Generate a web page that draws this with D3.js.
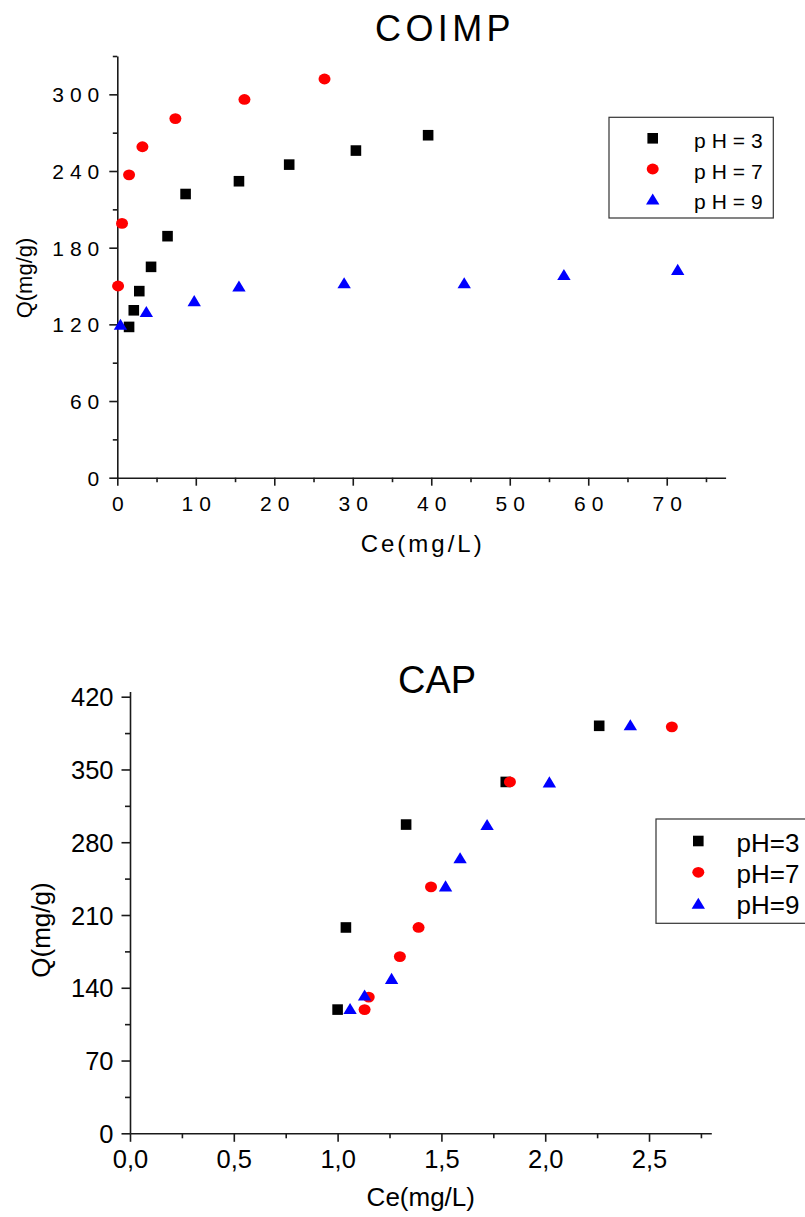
<!DOCTYPE html>
<html>
<head>
<meta charset="utf-8">
<script src="https://cdn.jsdelivr.net/npm/d3@7"></script>
<style>
  html, body { margin: 0; padding: 0; background: #fff; }
  svg { display: block; font-family: "Liberation Sans", Arial, sans-serif; }
</style>
</head>
<body>
<svg id="chart" width="805" height="1217"></svg>
<script>
// ---------- DATA ----------
const seriesNames = ["pH=3", "pH=7", "pH=9"];
const seriesColors = ["#000000", "#ff0000", "#0000ff"];
const seriesShapes = ["square", "circle", "triangle"];

// COIMP panel
const coimpX_pH3 = [1.5, 2.1, 2.8, 4.3, 6.4, 8.7, 15.5, 21.9, 30.4, 39.6];
const coimpQ_pH3 = [118, 131, 146, 165, 189, 222, 232, 245, 256, 268];
const coimpX_pH7 = [0.1, 0.6, 1.5, 3.2, 7.4, 16.2, 26.4];
const coimpQ_pH7 = [150, 199, 237, 259, 281, 296, 312];
const coimpX_pH9 = [0.4, 3.7, 9.8, 15.5, 28.9, 44.2, 56.9, 71.4];
const coimpQ_pH9 = [120, 130, 138.5, 150, 152.5, 152.5, 159, 163];
const coimpXTicks = [0, 10, 20, 30, 40, 50, 60, 70];
const coimpYTicks = [0, 60, 120, 180, 240, 300];

// CAP panel
const capX_pH3 = [1.00, 1.04, 1.33, 1.81, 2.26];
const capQ_pH3 = [119, 198, 297, 338, 392];
const capX_pH7 = [1.13, 1.15, 1.30, 1.39, 1.45, 1.83, 2.61];
const capQ_pH7 = [119, 131, 170, 198, 237, 338, 391];
const capX_pH9 = [1.06, 1.13, 1.26, 1.52, 1.59, 1.72, 2.02, 2.41];
const capQ_pH9 = [120, 133, 149, 238, 265, 297, 338, 393];
const capXTicks = [0, 0.5, 1.0, 1.5, 2.0, 2.5];
const capYTicks = [0, 70, 140, 210, 280, 350, 420];

// ---------- DRAWING ----------
const svg = d3.select("#chart");
const FONT = "'Liberation Sans', Arial, sans-serif";

function markerPath(shape) {
  if (shape === "square") return "M-5.3,-5.3H5.3V5.3H-5.3Z";
  if (shape === "triangle") return "M0,-5.6L6.7,5.5L-6.7,5.5Z";
  return null;
}

function drawMarkers(g, xs, ys, shape, color, xScale, yScale) {
  const pts = xs.map((x, i) => ({ x: x, y: ys[i] }));
  if (shape === "circle") {
    g.selectAll(null).data(pts).enter().append("ellipse")
      .attr("cx", d => xScale(d.x)).attr("cy", d => yScale(d.y))
      .attr("rx", 6).attr("ry", 5.4).attr("fill", color);
  } else {
    g.selectAll(null).data(pts).enter().append("path")
      .attr("d", markerPath(shape))
      .attr("transform", d => `translate(${xScale(d.x)},${yScale(d.y)})`)
      .attr("fill", color);
  }
}

function styleAxis(ax) {
  ax.select(".domain").attr("stroke", "#1a1a1a").attr("stroke-width", 1.6);
  ax.selectAll(".tick line").attr("stroke", "#1a1a1a").attr("stroke-width", 1.6);
}

function drawPanel(cfg) {
  const x = d3.scaleLinear().domain(cfg.xDomain).range(cfg.xRange);
  const y = d3.scaleLinear().domain(cfg.yDomain).range(cfg.yRange);
  const g = svg.append("g");
  const x0 = cfg.xRange[0], y0 = cfg.yRange[0];

  // minor ticks
  const xMinor = g.append("g").attr("transform", `translate(0,${y0})`)
    .call(d3.axisBottom(x).tickValues(cfg.xMinor).tickSize(cfg.minorLen).tickFormat(""));
  xMinor.select(".domain").remove();
  styleAxis(xMinor);
  const yMinor = g.append("g").attr("transform", `translate(${x0},0)`)
    .call(d3.axisLeft(y).tickValues(cfg.yMinor).tickSize(cfg.minorLen).tickFormat(""));
  yMinor.select(".domain").remove();
  styleAxis(yMinor);

  // major axes
  const xAx = g.append("g").attr("transform", `translate(0,${y0})`)
    .call(d3.axisBottom(x).tickValues(cfg.xTicks).tickSizeInner(cfg.majorLen).tickSizeOuter(0).tickFormat(cfg.xFmt));
  styleAxis(xAx);
  xAx.selectAll("text")
    .attr("y", cfg.xLabelOffset).attr("dy", null)
    .attr("dx", cfg.tickLs / 2)
    .attr("fill", "#000").attr("font-size", cfg.tickFont).attr("font-family", FONT)
    .attr("letter-spacing", cfg.tickLs);

  const yAx = g.append("g").attr("transform", `translate(${x0},0)`)
    .call(d3.axisLeft(y).tickValues(cfg.yTicks).tickSizeInner(cfg.majorLen).tickSizeOuter(0).tickFormat(d3.format("d")));
  styleAxis(yAx);
  yAx.selectAll("text")
    .attr("x", -cfg.yLabelOffset + cfg.tickLs).attr("dy", "0.36em")
    .attr("fill", "#000").attr("font-size", cfg.tickFont).attr("font-family", FONT)
    .attr("letter-spacing", cfg.tickLs);

  // axis titles
  g.append("text").attr("x", cfg.xTitle[0]).attr("y", cfg.xTitle[1])
    .attr("text-anchor", "middle").attr("font-size", cfg.titleFont)
    .attr("letter-spacing", cfg.xTitleLs).text("Ce(mg/L)");
  g.append("text").attr("transform", `translate(${cfg.yTitle[0]},${cfg.yTitle[1]}) rotate(-90)`)
    .attr("text-anchor", "middle").attr("font-size", cfg.yTitleFont)
    .attr("letter-spacing", cfg.yTitleLs).text("Q(mg/g)");

  // chart title
  g.append("text").attr("x", cfg.title[0]).attr("y", cfg.title[1])
    .attr("font-size", cfg.mainFont).attr("letter-spacing", cfg.mainLs).text(cfg.name);

  // data
  cfg.series.forEach((s, i) => {
    drawMarkers(g, s[0], s[1], seriesShapes[i], seriesColors[i], x, y);
  });

  // legend
  const lg = g.append("g");
  lg.append("rect").attr("x", cfg.legBox[0]).attr("y", cfg.legBox[1])
    .attr("width", cfg.legBox[2]).attr("height", cfg.legBox[3])
    .attr("fill", "#fff").attr("stroke", "#333").attr("stroke-width", 1.2);
  seriesNames.forEach((nm, i) => {
    const ry = cfg.legRows[i];
    const one = d3.scaleLinear().domain([0, 1]).range([0, 1]);
    drawMarkers(lg, [cfg.legSymX], [ry], seriesShapes[i], seriesColors[i], one, one);
    lg.append("text").attr("x", cfg.legTextX).attr("y", ry + cfg.legBase)
      .attr("font-size", cfg.legFont).attr("letter-spacing", cfg.legLs).text(nm);
  });
}

drawPanel({
  name: "COIMP",
  xDomain: [0, 77.5], xRange: [117.3, 725.6],
  yDomain: [0, 330], yRange: [477.7, 56],
  xTicks: coimpXTicks, yTicks: coimpYTicks,
  xMinor: [5, 15, 25, 35, 45, 55, 65, 75], yMinor: [30, 90, 150, 210, 270, 330],
  xFmt: d3.format("d"),
  majorLen: 8, minorLen: 4.5,
  tickFont: 21, tickLs: 6,
  xLabelOffset: 33, yLabelOffset: 18,
  xTitle: [422.7, 552], titleFont: 24, xTitleLs: 3,
  yTitle: [31.5, 278], yTitleFont: 22, yTitleLs: 0,
  title: [375, 41], mainFont: 36, mainLs: 4.4,
  series: [[coimpX_pH3, coimpQ_pH3], [coimpX_pH7, coimpQ_pH7], [coimpX_pH9, coimpQ_pH9]],
  legBox: [609, 117.3, 164.3, 100.7],
  legRows: [138.3, 169, 199], legSymX: 652.7, legTextX: 694, legBase: 9.7,
  legFont: 21, legLs: 6
});

drawPanel({
  name: "CAP",
  xDomain: [0, 2.8], xRange: [130, 711.3],
  yDomain: [0, 425], yRange: [1133.3, 691.5],
  xTicks: capXTicks, yTicks: capYTicks,
  xMinor: [0.25, 0.75, 1.25, 1.75, 2.25, 2.75], yMinor: [35, 105, 175, 245, 315, 385],
  xFmt: d => d3.format(".1f")(d).replace(".", ","),
  majorLen: 8.5, minorLen: 5,
  tickFont: 25.5, tickLs: 0,
  xLabelOffset: 34.7, yLabelOffset: 16.5,
  xTitle: [420.8, 1206], titleFont: 26, xTitleLs: 0,
  yTitle: [50, 930], yTitleFont: 26, yTitleLs: 0,
  title: [398, 692.7], mainFont: 38, mainLs: 0,
  series: [[capX_pH3, capQ_pH3], [capX_pH7, capQ_pH7], [capX_pH9, capQ_pH9]],
  legBox: [656, 819, 200, 104.3],
  legRows: [841, 872.3, 903.3], legSymX: 698.3, legTextX: 736.5, legBase: 11,
  legFont: 26, legLs: 0
});
</script>
</body>
</html>
